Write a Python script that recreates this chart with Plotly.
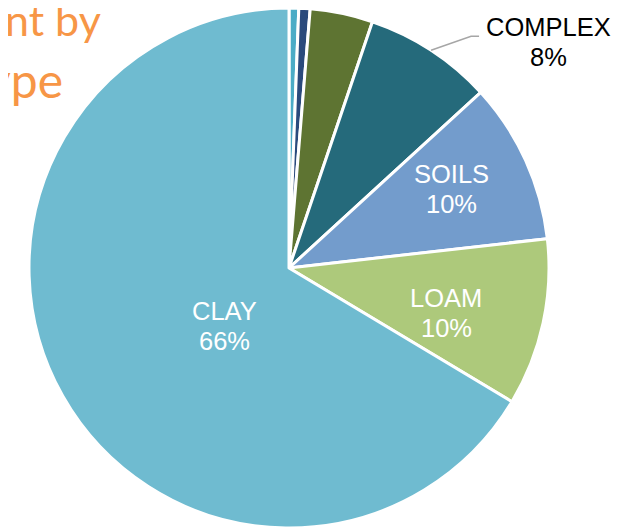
import math
import plotly.graph_objects as go

# ---- data ----
labels = ["GRAVEL", "SAND", "SILT", "COMPLEX", "SOILS", "LOAM", "CLAY"]
values = [0.6, 0.7, 3.9, 8.0, 10.0, 10.4, 66.4]
colors = ["#4BACC6", "#2A4A7C", "#5E7432", "#256A7B", "#739CCC", "#ADC97B", "#6FBBD0"]
inside_labels = ["SOILS", "LOAM", "CLAY"]
# label placement: (fraction of radius, angle shift in degrees from slice middle)
inside_place = {"SOILS": (0.695, -1.5), "LOAM": (0.63, 3.8), "CLAY": (0.333, -12.7)}
outside_label = "COMPLEX"
title_lines = ["Percent by", "Soil Type"]

W, H = 635, 528
OFF = 8  # page margin of the html body: screen = figure + OFF

def px(xs):
    return (xs - OFF) / W

def py(ys):
    return 1 - (ys - OFF) / H

# pie placement (screen pixels), layout only
CX, CY, R = 289, 268, 260
dom_x = [px(CX - R), px(CX + R)]
dom_y = [py(CY + R), py(CY - R)]
dom_y = [max(0.0, dom_y[0]), min(1.0, dom_y[1])]

fig = go.Figure(go.Pie(
    labels=labels,
    values=values,
    sort=False,
    direction="clockwise",
    rotation=0,
    marker=dict(colors=colors, line=dict(color="white", width=3)),
    textinfo="none",
    hoverinfo="label+percent",
    domain=dict(x=dom_x, y=dom_y),
))

total = sum(values)
font_lab = "Liberation Sans, Arial"
FS = 25.5

def mid_angle(i):
    return math.radians((sum(values[:i]) + values[i] / 2) / total * 360)

# inside labels
for lab in inside_labels:
    i = labels.index(lab)
    frac, shift = inside_place[lab]
    a = mid_angle(i) + math.radians(shift)
    rr = R * frac
    x = CX + rr * math.sin(a)
    y = CY - rr * math.cos(a)
    pct = round(values[i] / total * 100)
    fig.add_annotation(x=px(x), y=py(y - 15), xref="paper", yref="paper",
                       xanchor="center", yanchor="middle", text=lab, showarrow=False,
                       font=dict(color="white", size=FS, family=font_lab))
    fig.add_annotation(x=px(x), y=py(y + 15), xref="paper", yref="paper",
                       xanchor="center", yanchor="middle", text=f"{pct}%", showarrow=False,
                       font=dict(color="white", size=FS, family=font_lab))

# outside label with leader line
i = labels.index(outside_label)
a = mid_angle(i)
ex = CX + R * math.sin(a)
ey = CY - R * math.cos(a)
kx, ky = ex + 40, ey - 14
hx = kx + 8
fig.add_shape(type="path",
              path=f"M {px(ex)} {py(ey)} L {px(kx)} {py(ky)} L {px(hx)} {py(ky)}",
              xref="paper", yref="paper",
              line=dict(color="#A6A6A6", width=1.5))
pct = round(values[i] / total * 100)
fig.add_annotation(x=px(hx + 69), y=py(ky - 9), xref="paper", yref="paper",
                   xanchor="center", yanchor="middle", text=outside_label, showarrow=False,
                   font=dict(color="black", size=FS, family=font_lab))
fig.add_annotation(x=px(hx + 69), y=py(ky + 21), xref="paper", yref="paper",
                   xanchor="center", yanchor="middle", text=f"{pct}%", showarrow=False,
                   font=dict(color="black", size=FS, family=font_lab))

# cropped title (partially off the left edge)
fig.add_annotation(x=px(103), y=py(20), xref="paper", yref="paper",
                   xanchor="right", yanchor="middle", text=title_lines[0],
                   showarrow=False,
                   font=dict(color="#F79646", size=43, family="Lato"))
fig.add_annotation(x=px(65), y=py(79), xref="paper", yref="paper",
                   xanchor="right", yanchor="middle", text=title_lines[1],
                   showarrow=False,
                   font=dict(color="#F79646", size=48, family="Lato"))

fig.update_layout(
    width=W, height=H,
    margin=dict(l=0, r=0, t=0, b=0),
    paper_bgcolor="white",
    showlegend=False,
)

fig.write_html("out.html")
